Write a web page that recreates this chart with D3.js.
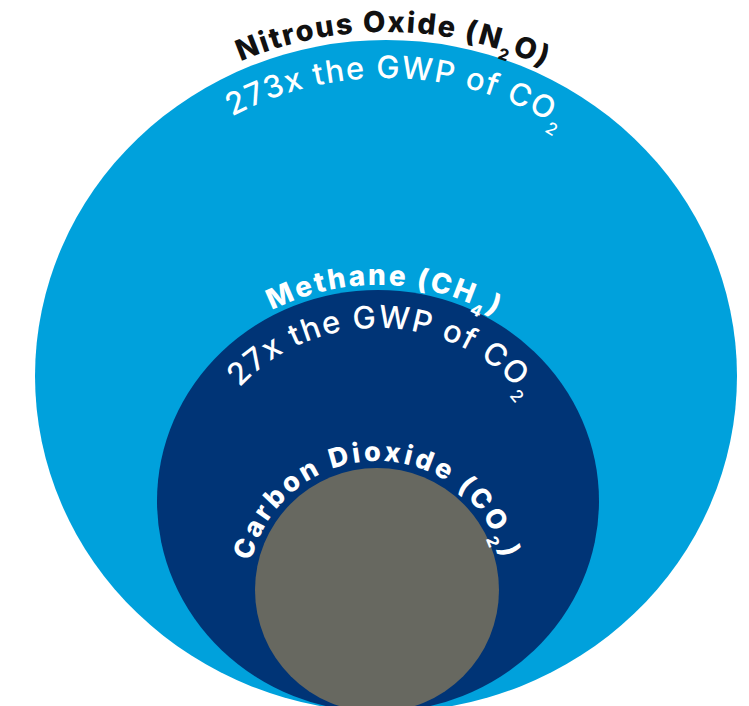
<!DOCTYPE html>
<html>
<head>
<meta charset="utf-8">
<script src="https://d3js.org/d3.v7.min.js"></script>
<style>
  body { margin: 0; background: #fff; }
  svg { display: block; }
  text { font-family: Inter, Lato, "Open Sans", sans-serif; }
</style>
</head>
<body>
<svg width="749" height="706"></svg>
<script>
// gases, outermost first
var gases = ["Nitrous Oxide", "Methane", "Carbon Dioxide"];
var formulas = ["N2O", "CH4", "CO2"];
var gwp = [273, 27, 1];
var reference = "CO2";

var colors = ["#00a1dc", "#003476", "#676860"];
var nameColors = ["#111111", "#ffffff", "#ffffff"];

var svg = d3.select("svg");
var baseY = 712;

// ellipse sizes from GWP (illustrative, not to scale)
var rxScale = d3.scaleLog().domain([273, 27, 1]).range([351, 221, 122]);
var ryScale = d3.scaleLog().domain([273, 27, 1]).range([336, 211, 122]);
var cxScale = d3.scaleLog().domain([273, 27, 1]).range([386, 378, 377]);

var items = gases.map(function(g, i) {
  var rx = rxScale(gwp[i]), ry = ryScale(gwp[i]);
  return { name: g, formula: formulas[i], gwp: gwp[i], i: i,
           cx: cxScale(gwp[i]), cy: baseY - ry, rx: rx, ry: ry };
});

svg.selectAll("ellipse.gas")
  .data(items)
  .enter().append("ellipse")
    .attr("class", "gas")
    .attr("cx", d => d.cx)
    .attr("cy", d => d.cy)
    .attr("rx", d => d.rx)
    .attr("ry", d => d.ry)
    .attr("fill", (d, i) => colors[i]);

function arcPath(d, off) {
  var rx = d.rx + off, ry = d.ry + off;
  return "M" + (d.cx - rx) + "," + d.cy + " A" + rx + "," + ry + " 0 0 1 " + (d.cx + rx) + "," + d.cy;
}

// split "N2O" into normal / subscript parts
function parts(s) {
  return s.split(/(\d+)/).filter(p => p.length).map(p => ({ t: p, sub: /^\d+$/.test(p) }));
}

var defs = svg.append("defs");

function label(d, id, off, segs, size, weight, color, spacing, subSize, subDy, start) {
  defs.append("path").attr("id", id).attr("d", arcPath(d, off));
  var tp = svg.append("text")
      .attr("fill", color)
      .attr("font-size", size)
      .attr("font-weight", weight)
      .attr("letter-spacing", spacing)
    .append("textPath")
      .attr("href", "#" + id)
      .attr("startOffset", start)
      .attr("text-anchor", "middle");
  var shifted = false;
  segs.forEach(function(p) {
    var t = tp.append("tspan").text(p.t);
    if (p.sub) {
      t.attr("font-size", subSize).attr("dy", subDy);
      shifted = true;
    } else if (shifted) {
      t.attr("dy", -subDy);
      shifted = false;
    }
  });
}

var nameOff = [8, 5, 7];
var nameSize = [29, 28, 27];
var nameSpacing = [1.8, 2.4, 3.2];
var nameStart = ["50.7%", "51%", "50%"];
items.forEach(function(d, i) {
  var segs = [{ t: d.name + " (", sub: false }].concat(parts(d.formula)).concat([{ t: ")", sub: false }]);
  label(d, "name" + i, nameOff[i], segs, nameSize[i], 800, nameColors[i], nameSpacing[i], 16, 9, nameStart[i]);
  if (d.gwp > 1) {
    var segs2 = [{ t: d.gwp + "x the GWP of ", sub: false }].concat(parts(reference));
    label(d, "gwp" + i, -38, segs2, 31, 500, "#ffffff", 1.5, 17, 11, "51.2%");
  }
});
</script>
</body>
</html>
